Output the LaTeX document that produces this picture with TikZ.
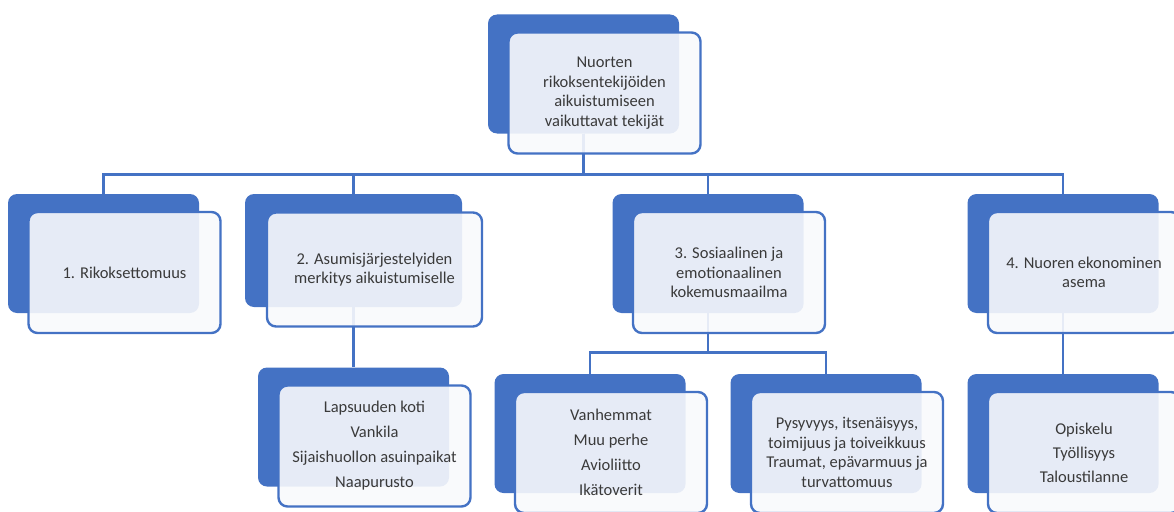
\documentclass[tikz,border=0pt]{standalone}
\usepackage{fontspec}
\setmainfont{Carlito}
\usepackage{tikz}
\usetikzlibrary{positioning}
\definecolor{boxblue}{RGB}{68,114,196}
\definecolor{cardfill}{RGB}{248,249,252}
\definecolor{textgray}{RGB}{58,58,58}

\begin{document}
\begin{tikzpicture}[x=1pt,y=-1pt,
    back node/.style={rectangle,rounded corners=9pt,fill=boxblue,minimum width=191pt,minimum height=119pt,inner sep=0pt},
    front node/.style={rectangle,rounded corners=9pt,draw=boxblue,line width=2.4pt,fill=cardfill,fill opacity=0.9,text opacity=1,
      minimum width=192pt,minimum height=121pt,inner sep=2pt,align=center,text=textgray,font=\fontsize{16.5}{19.5}\selectfont},
    link/.style={draw=boxblue,line width=2.6pt}]
   \clip (0,0) rectangle (1174,511);
   % back cards
   \node[back node] (t) at (583.5,74) {};
   \node[back node] (a) at (103.5,253.5) {};
   \node[back node,minimum width=217pt,minimum height=113pt] (b) at (353.5,250.5) {};
   \node[back node] (c) at (708,253.5) {};
   \node[back node] (d) at (1063,253.5) {};
   \node[back node] (b1) at (353.5,427) {};
   \node[back node] (c1) at (590,433.5) {};
   \node[back node] (c2) at (826,433.5) {};
   \node[back node] (d1) at (1063,433.5) {};
   % connectors
   \foreach \n in {a,b,c,d}
     \draw[link] (t.south) -- ++(0,41) -| (\n.north);
   \draw[link] (b.south) -- (b1.north);
   \foreach \n in {c1,c2}
     \draw[link] (c.south) -- ++(0,39) -| (\n.north);
   \draw[link] (d.south) -- (d1.north);
   % front cards
   \node[front node] (t-f) at (604.5,93) {Nuorten\\rikoksentekijöiden\\aikuistumiseen\\vaikuttavat tekijät};
   \node[front node] (a-f) at (124.5,272.5) {1. Rikoksettomuus};
   \node[front node,minimum width=215pt,minimum height=114pt] (b-f) at (374.5,269.5) {2. Asumisjärjestelyiden\\merkitys aikuistumiselle};
   \node[front node] (c-f) at (729,272.5) {3. Sosiaalinen ja\\emotionaalinen\\kokemusmaailma};
   \node[front node] (d-f) at (1084,272.5) {4. Nuoren ekonominen\\asema};
   \node[front node] (b1-f) at (374.5,446) {Lapsuuden koti\\[5.5pt]Vankila\\[5.5pt]Sijaishuollon asuinpaikat\\[5.5pt]Naapurusto};
   \node[front node] (c1-f) at (611,452.5) {Vanhemmat\\[5.5pt]Muu perhe\\[5.5pt]Avioliitto\\[5.5pt]Ikätoverit};
   \node[front node] (c2-f) at (847,452.5) {Pysyvyys, itsenäisyys,\\toimijuus ja toiveikkuus\\Traumat, epävarmuus ja\\turvattomuus};
   \node[front node] (d1-f) at (1084,452.5) {Opiskelu\\[4.5pt]Työllisyys\\[4.5pt]Taloustilanne};
\end{tikzpicture}
\end{document}
